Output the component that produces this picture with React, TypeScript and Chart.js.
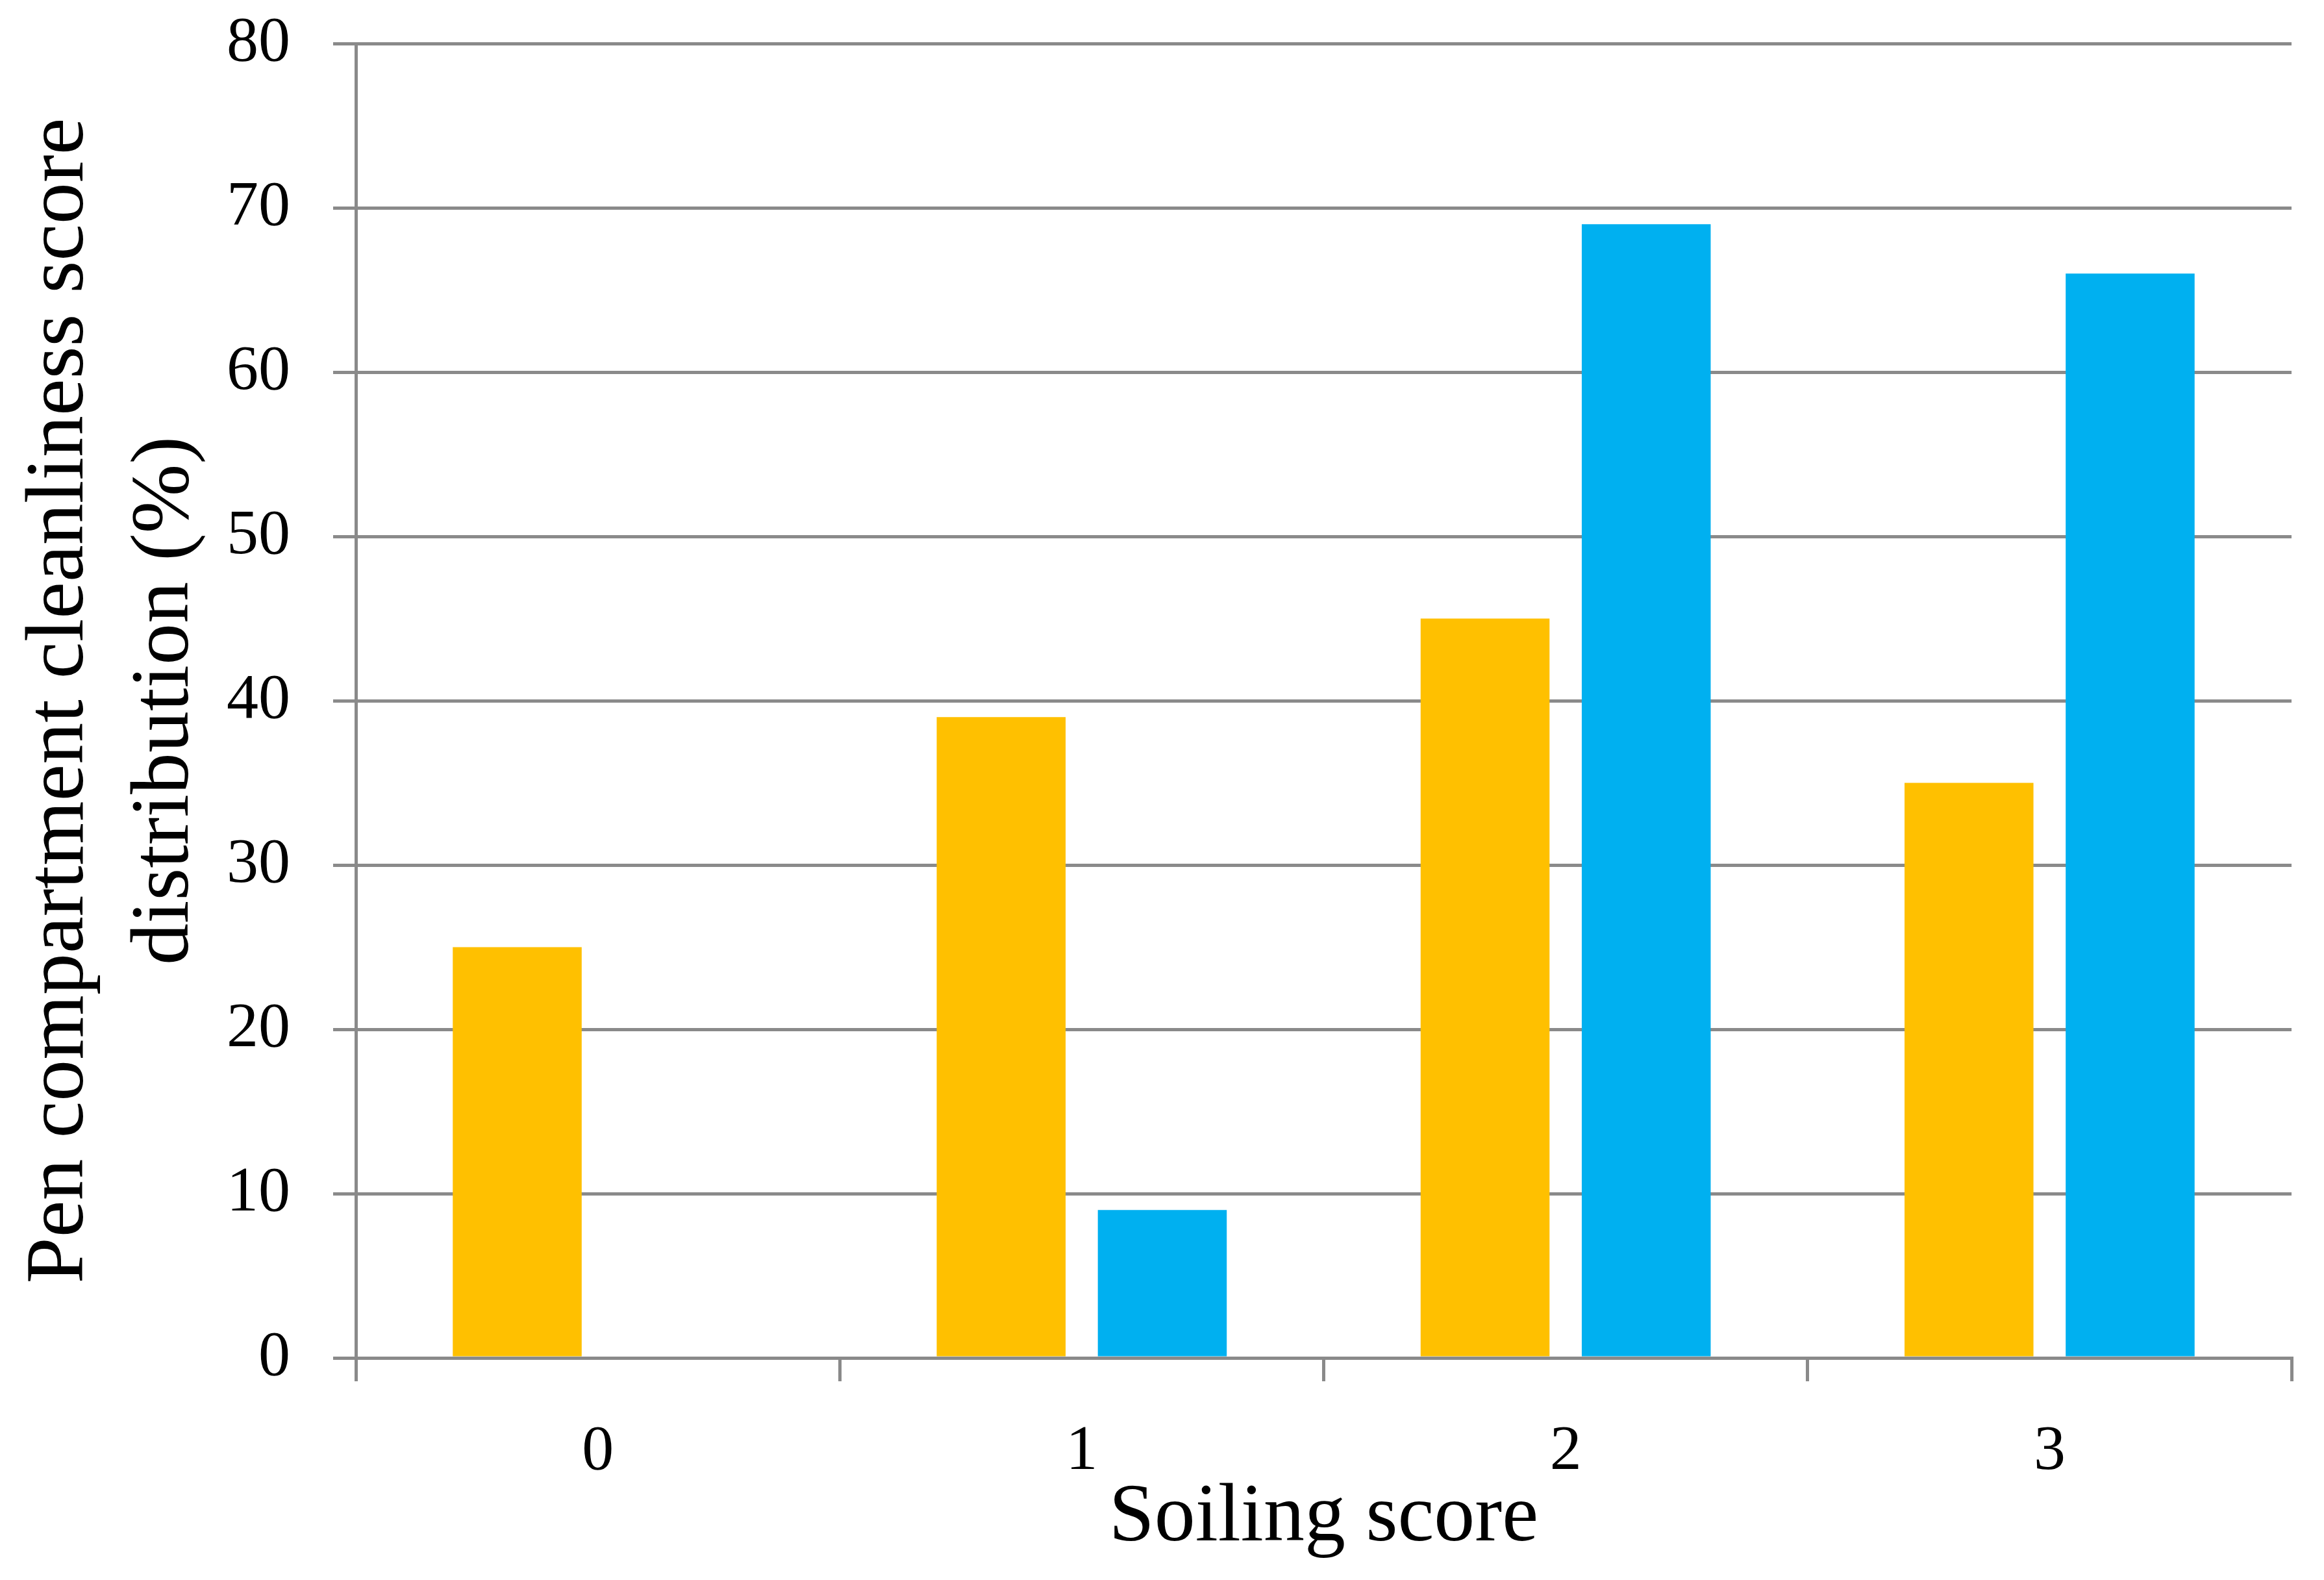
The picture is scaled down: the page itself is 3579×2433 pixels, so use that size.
import React, { useEffect, useRef } from "react";
import { Chart, registerables } from "chart.js";

Chart.register(...registerables);

const categories = ["0", "1", "2", "3"];
const seriesYellow = [25, 39, 45, 35];
const seriesBlue = [0, 9, 69, 66];
const yTicks = [0, 10, 20, 30, 40, 50, 60, 70, 80];
const xTitle = "Soiling score";
const yTitle = ["Pen compartment cleanliness score", "distribution (%)"];

const GRAY = "#8a8a8a";
const FONT = "'Liberation Serif', 'Times New Roman', serif";

export default function App() {
  const ref = useRef<HTMLCanvasElement | null>(null);

  useEffect(() => {
    document.body.style.margin = "0";
    if (!ref.current) return;
    const chart = new Chart(ref.current, {
      type: "bar",
      data: {
        labels: categories,
        datasets: [
          {
            label: "A",
            data: seriesYellow,
            backgroundColor: "#FFC000",
            borderWidth: 0,
            categoryPercentage: 0.666,
            barPercentage: 0.8,
          },
          {
            label: "B",
            data: seriesBlue,
            backgroundColor: "#00B0F0",
            borderWidth: 0,
            categoryPercentage: 0.666,
            barPercentage: 0.8,
          },
        ],
      },
      options: {
        animation: false,
        responsive: true,
        maintainAspectRatio: false,
        layout: { padding: { top: 67, right: 50, bottom: 0, left: 0 } },
        plugins: {
          legend: { display: false },
          tooltip: { enabled: false },
        },
        scales: {
          x: {
            afterFit: (s: any) => {
              s.height = 2433 - 2091;
              s.paddingLeft = 0;
              s.paddingRight = 0;
            },
            grid: {
              display: true,
              drawOnChartArea: false,
              drawTicks: true,
              tickLength: 36,
              offset: true,
              color: GRAY,
              lineWidth: 5,
            },
            border: { display: true, color: GRAY, width: 5 },
            ticks: {
              color: "#000",
              padding: 50,
              font: { family: FONT, size: 98 },
            },
            title: {
              display: true,
              text: xTitle,
              color: "#000",
              font: { family: FONT, size: 126, lineHeight: 1.2 },
              padding: { top: 0, bottom: 18 },
            },
          },
          y: {
            min: 0,
            max: 80,
            afterFit: (s: any) => {
              s.width = 548;
              s.paddingTop = 0;
              s.paddingBottom = 0;
            },
            afterBuildTicks: (s: any) => {
              s.ticks = yTicks.map((v) => ({ value: v }));
            },
            grid: {
              display: true,
              drawTicks: true,
              tickLength: 35,
              color: GRAY,
              lineWidth: 5,
            },
            border: { display: true, color: GRAY, width: 5 },
            ticks: {
              color: "#000",
              padding: 66,
              font: { family: FONT, size: 98 },
            },
            title: {
              display: true,
              text: yTitle,
              color: "#000",
              font: { family: FONT, size: 128, lineHeight: 1.27 },
              padding: { top: 12, bottom: 0 },
            },
          },
        },
      },
    });
    return () => chart.destroy();
  }, []);

  return (
    <div style={{ position: "relative", width: 3579, height: 2433 }}>
      <canvas ref={ref} />
    </div>
  );
}
